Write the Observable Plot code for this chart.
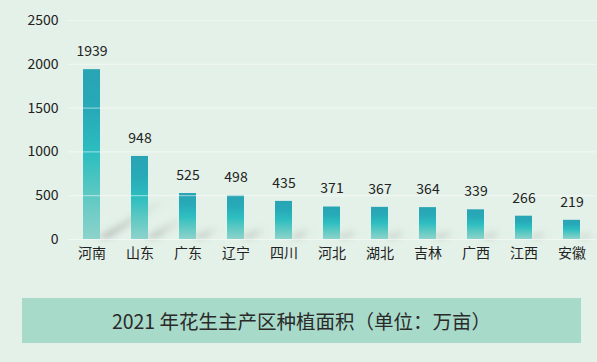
<!DOCTYPE html>
<html><head><meta charset="utf-8">
<script src="https://cdn.jsdelivr.net/npm/d3@7"></script>
<script src="https://cdn.jsdelivr.net/npm/@observablehq/plot@0.6"></script>
<style>
html,body{margin:0;padding:0;background:#e3f1e8;font-family:"Noto Sans CJK SC","Noto Sans",sans-serif;}
#wrap{position:relative;width:597px;height:362px;overflow:hidden;}
#title{position:absolute;left:22px;top:298px;width:559px;height:45px;background:#a8dac9;display:flex;align-items:center;justify-content:center;font-size:19.5px;color:#2a2a2a;white-space:nowrap;}
</style></head><body>
<div id="wrap"><div id="chart"></div>
<div id="title">2021 年花生主产区种植面积（单位：万亩）</div></div>
<script>
const provinces = ["河南","山东","广东","辽宁","四川","河北","湖北","吉林","广西","江西","安徽"];
const areas = [1939,948,525,498,435,371,367,364,339,266,219];
const yTicks = [0,500,1000,1500,2000,2500];
const titleText = "2021 年花生主产区种植面积（单位：万亩）";

const data = provinces.map((p,i)=>({province:p, area:areas[i]}));

const defsMark = () => {
  const defs = d3.create("svg:defs");
  const g = defs.append("linearGradient").attr("id","barGrad").attr("x1",0).attr("y1",0).attr("x2",0).attr("y2",1);
  g.append("stop").attr("offset","0%").attr("stop-color","#29a4b4");
  g.append("stop").attr("offset","25%").attr("stop-color","#27aab8");
  g.append("stop").attr("offset","50%").attr("stop-color","#2dbec0");
  g.append("stop").attr("offset","75%").attr("stop-color","#5ec9c3");
  g.append("stop").attr("offset","100%").attr("stop-color","#8dd3cb");
  const s = defs.append("linearGradient").attr("id","shadowGrad").attr("x1",0).attr("y1",1).attr("x2",1).attr("y2",0);
  s.append("stop").attr("offset","0%").attr("stop-color","#777").attr("stop-opacity",0.45);
  s.append("stop").attr("offset","100%").attr("stop-color","#999").attr("stop-opacity",0);
  const f = defs.append("filter").attr("id","blur").attr("x","-50%").attr("y","-50%").attr("width","200%").attr("height","200%");
  f.append("feGaussianBlur").attr("stdDeviation",3);
  return defs.node();
};

const shadowMark = (index, scales) => {
  const g = d3.create("svg:g").attr("filter","url(#blur)");
  const bw = scales.x.bandwidth ? scales.x.bandwidth() : 17;
  const y0 = scales.y(0);
  for (const d of data) {
    const xr = scales.x(d.province) + bw;
    const h = y0 - scales.y(d.area);
    const dx = 0.37*h, dy = 0.23*h;
    const pts = [[xr-3,y0-1],[xr+9,y0-1],[xr+9+dx,y0-1-dy],[xr-3+dx,y0-1-dy]];
    g.append("polygon").attr("points",pts.map(p=>p.join(",")).join(" ")).attr("fill","url(#shadowGrad)");
  }
  return g.node();
};

const chart = Plot.plot({
  width: 597,
  height: 280,
  marginLeft: 68,
  marginRight: 1,
  marginTop: 20,
  marginBottom: 41,
  style: {background:"transparent", fontFamily:'"Noto Sans CJK SC","Noto Sans",sans-serif', fontSize:"14px", color:"#222"},
  x: {domain: provinces, paddingInner: 0.64, paddingOuter: 0.32, label: null},
  y: {domain: [0,2500], ticks: yTicks, label: null},
  marks: [
    defsMark,
    shadowMark,
    Plot.barY(data, {x:"province", y:"area", fill:"url(#barGrad)"}),
    Plot.gridY(yTicks.slice(1), {stroke:"#ffffff", strokeOpacity:0.45, strokeWidth:1.2}),
    Plot.ruleY([0], {stroke:"#ffffff", strokeOpacity:0.5}),
    Plot.text(data, {x:"province", y:"area", text:d=>String(d.area), dy:-18, fill:"#222", fontSize:14}),
    Plot.axisY({ticks: yTicks, tickFormat: d=>String(d), tickSize:0, tickPadding:10, fontSize:14, fill:"#222", textAnchor:"end"}),
    Plot.axisX({tickSize:0, tickPadding:9, fontSize:14, fill:"#222"})
  ]
});
document.getElementById("chart").appendChild(chart);
</script>
</body></html>
